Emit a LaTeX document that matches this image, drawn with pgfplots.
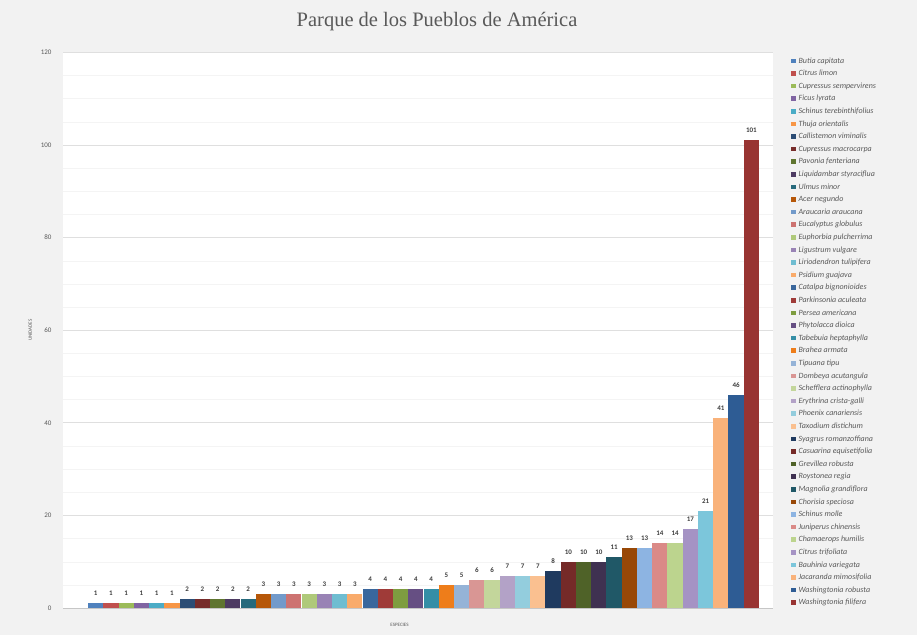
\documentclass[border=0pt]{standalone}
\usepackage{fontspec}
\setmainfont{Carlito}
\newfontfamily\titlefont{Liberation Serif}
\usepackage{pgfplots}
\pgfplotsset{compat=1.18}
\definecolor{bgc}{HTML}{F2F2F2}
\definecolor{txt}{HTML}{595959}
\definecolor{lbl}{HTML}{404040}
\definecolor{c0}{HTML}{4F81BD}\definecolor{c1}{HTML}{C0504D}\definecolor{c2}{HTML}{9BBB59}
\definecolor{c3}{HTML}{8064A2}\definecolor{c4}{HTML}{4BACC6}\definecolor{c5}{HTML}{F79646}
\definecolor{c6}{HTML}{2C4D75}\definecolor{c7}{HTML}{772C2A}\definecolor{c8}{HTML}{5F7530}
\definecolor{c9}{HTML}{4D3B62}\definecolor{c10}{HTML}{276A7C}\definecolor{c11}{HTML}{B65708}
\definecolor{c12}{HTML}{729ACA}\definecolor{c13}{HTML}{CD7371}\definecolor{c14}{HTML}{AFC97A}
\definecolor{c15}{HTML}{9983B5}\definecolor{c16}{HTML}{6FBDD1}\definecolor{c17}{HTML}{F9AB6B}
\definecolor{c18}{HTML}{3A679C}\definecolor{c19}{HTML}{9F3B38}\definecolor{c20}{HTML}{7E9D40}
\definecolor{c21}{HTML}{664F83}\definecolor{c22}{HTML}{358EA6}\definecolor{c23}{HTML}{EE7D1A}
\definecolor{c24}{HTML}{95B3D7}\definecolor{c25}{HTML}{D99694}\definecolor{c26}{HTML}{C3D69B}
\definecolor{c27}{HTML}{B3A2C7}\definecolor{c28}{HTML}{93CDDD}\definecolor{c29}{HTML}{FAC090}
\definecolor{c30}{HTML}{1F3A5F}\definecolor{c31}{HTML}{752A28}\definecolor{c32}{HTML}{4F6228}
\definecolor{c33}{HTML}{3F3151}\definecolor{c34}{HTML}{205867}\definecolor{c35}{HTML}{984807}
\definecolor{c36}{HTML}{8DB4E2}\definecolor{c37}{HTML}{DA8A87}\definecolor{c38}{HTML}{BCD48E}
\definecolor{c39}{HTML}{A593C4}\definecolor{c40}{HTML}{7CC6DB}\definecolor{c41}{HTML}{F9B27A}
\definecolor{c42}{HTML}{2E5C94}\definecolor{c43}{HTML}{983432}
\newcommand{\spbar}[3]{\addplot[fill=c#1] coordinates {(#1,#2)}; \addlegendentry{#3}}
\begin{document}
\begin{tikzpicture}[x=1pt,y=1pt]
\fill[bgc] (0,0) rectangle (917,635);
\node[font=\titlefont\fontsize{20.5}{23}\selectfont, text=txt] at (437,613) {Parque de los Pueblos de América};
\begin{axis}[
 at={(63pt,27pt)}, anchor=south west,
 scale only axis, width=710pt, height=555.6pt,
 xmin=-2.14, xmax=44.42, ymin=0, ymax=120,
 ytick={0,20,...,120}, minor y tick num=3,
 xtick=\empty,
 axis background/.style={fill=white},
 axis x line*=bottom, axis y line*=left,
 y axis line style={draw=none},
 x axis line style={draw=gray!45},
 major tick length=0pt, minor tick length=0pt,
 ymajorgrids, yminorgrids,
 major grid style={gray!25, line width=0.8pt},
 minor grid style={gray!9},
 ticklabel style={font=\fontsize{7}{8}\selectfont, text=txt},
 yticklabel style={xshift=-8pt},
 /pgf/number format/assume math mode=true,
 ylabel={UNIDADES},
 ylabel style={font=\fontsize{5}{6}\selectfont, text=txt, at={(axis description cs:-0.046,0.5)}, anchor=center},
 xlabel={ESPECIES},
 xlabel style={font=\fontsize{5}{6}\selectfont, text=txt, at={(axis description cs:0.474,0)}, anchor=center, yshift=-17pt},
 ybar, bar width=15.24pt,
 every axis plot post/.append style={bar shift=0pt, draw=none,
   legend image code/.code={\path[##1] (0pt,-2.3pt) rectangle (4.6pt,2.3pt);}},
 nodes near coords,
 every node near coord/.append style={font=\bfseries\fontsize{7}{8}\selectfont, text=lbl, yshift=4pt},
 legend cell align=left,
 legend style={at={(1,1)}, anchor=north west, xshift=18pt, yshift=-4.7pt,
   draw=none, fill=none, inner sep=0pt, outer sep=0pt,
   font=\itshape\fontsize{8}{9}\selectfont, text=txt,
   nodes={inner sep=0pt, text height=6pt, text depth=1.5pt},
   row sep=5.1pt,
   /tikz/every odd column/.append style={column sep=3pt}},
]
\spbar{0}{1}{Butia capitata}
\spbar{1}{1}{Citrus limon}
\spbar{2}{1}{Cupressus sempervirens}
\spbar{3}{1}{Ficus lyrata}
\spbar{4}{1}{Schinus terebinthifolius}
\spbar{5}{1}{Thuja orientalis}
\spbar{6}{2}{Callistemon viminalis}
\spbar{7}{2}{Cupressus macrocarpa}
\spbar{8}{2}{Pavonia fenteriana}
\spbar{9}{2}{Liquidambar styraciflua}
\spbar{10}{2}{Ulmus minor}
\spbar{11}{3}{Acer negundo}
\spbar{12}{3}{Araucaria araucana}
\spbar{13}{3}{Eucalyptus globulus}
\spbar{14}{3}{Euphorbia pulcherrima}
\spbar{15}{3}{Ligustrum vulgare}
\spbar{16}{3}{Liriodendron tulipifera}
\spbar{17}{3}{Psidium guajava}
\spbar{18}{4}{Catalpa bignonioides}
\spbar{19}{4}{Parkinsonia aculeata}
\spbar{20}{4}{Persea americana}
\spbar{21}{4}{Phytolacca dioica}
\spbar{22}{4}{Tabebuia heptaphylla}
\spbar{23}{5}{Brahea armata}
\spbar{24}{5}{Tipuana tipu}
\spbar{25}{6}{Dombeya acutangula}
\spbar{26}{6}{Schefflera actinophylla}
\spbar{27}{7}{Erythrina crista-galli}
\spbar{28}{7}{Phoenix canariensis}
\spbar{29}{7}{Taxodium distichum}
\spbar{30}{8}{Syagrus romanzoffiana}
\spbar{31}{10}{Casuarina equisetifolia}
\spbar{32}{10}{Grevillea robusta}
\spbar{33}{10}{Roystonea regia}
\spbar{34}{11}{Magnolia grandiflora}
\spbar{35}{13}{Chorisia speciosa}
\spbar{36}{13}{Schinus molle}
\spbar{37}{14}{Juniperus chinensis}
\spbar{38}{14}{Chamaerops humilis}
\spbar{39}{17}{Citrus trifoliata}
\spbar{40}{21}{Bauhinia variegata}
\spbar{41}{41}{Jacaranda mimosifolia}
\spbar{42}{46}{Washingtonia robusta}
\spbar{43}{101}{Washingtonia filifera}
\end{axis}
\pgfresetboundingbox
\path (0,0) rectangle (917,635);
\end{tikzpicture}
\end{document}
